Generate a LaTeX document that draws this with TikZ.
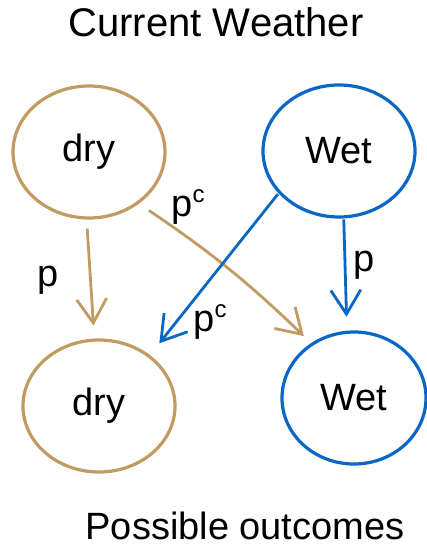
\documentclass[tikz,border=0pt]{standalone}
\usepackage{fontspec}
\setmainfont{Liberation Sans}
\usetikzlibrary{shapes.geometric,arrows.meta}
\definecolor{tanc}{RGB}{193,155,98}
\definecolor{wblue}{RGB}{10,104,196}
\begin{document}
\begin{tikzpicture}[x=1pt,y=-1pt,
 state/.style={ellipse,draw,line width=3.2pt,inner sep=0pt,font=\fontsize{38}{44}\selectfont},
 trans/.style={line width=2.8pt,-{Straight Barb[length=24pt,width=30pt,line width=2.8pt]}},
 lbl/.style={font=\fontsize{38}{44}\selectfont,inner sep=0pt},
 ttl/.style={font=\fontsize{40}{46}\selectfont,anchor=base,inner sep=0pt}]
\useasboundingbox (0,0) rectangle (427,548);
\node[ttl] (t1) at (216,37) {Current Weather};
\node[ttl,font=\fontsize{38}{44}\selectfont] (t2) at (245,539) {Possible outcomes};
\node[state,tanc,text=black,minimum width=152pt,minimum height=132pt] (d1) at (89,152) {dry};
\node[state,wblue,text=black,minimum width=152pt,minimum height=132pt] (w1) at (339,151) {Wet};
\node[state,tanc,text=black,minimum width=152pt,minimum height=132pt] (d2) at (99,406) {dry};
\node[state,wblue,text=black,minimum width=144pt,minimum height=132pt] (w2) at (354,398) {Wet};
\draw[trans,tanc,shorten <=9pt,shorten >=13pt] (d1.-92) -- (d2.94);
\draw[trans,wblue,shorten <=1pt,shorten >=14pt] (w1.-86) -- (w2.96);
\draw[trans,tanc,shorten <=12pt,shorten >=10pt] (d1.-46) to[bend left=5] (w2.128);
\draw[trans,wblue,shorten <=1pt,shorten >=15pt] (w1.215) -- (d2.45);
\node[lbl] (l1) at (48,280) {p};
\node[lbl] (l2) at (364,265) {p};
\node[lbl] (l3) at (188,207) {p\raisebox{0.35em}{\fontsize{24}{26}\selectfont c}};
\node[lbl] (l4) at (210,322) {p\raisebox{0.35em}{\fontsize{24}{26}\selectfont c}};
\end{tikzpicture}
\end{document}
